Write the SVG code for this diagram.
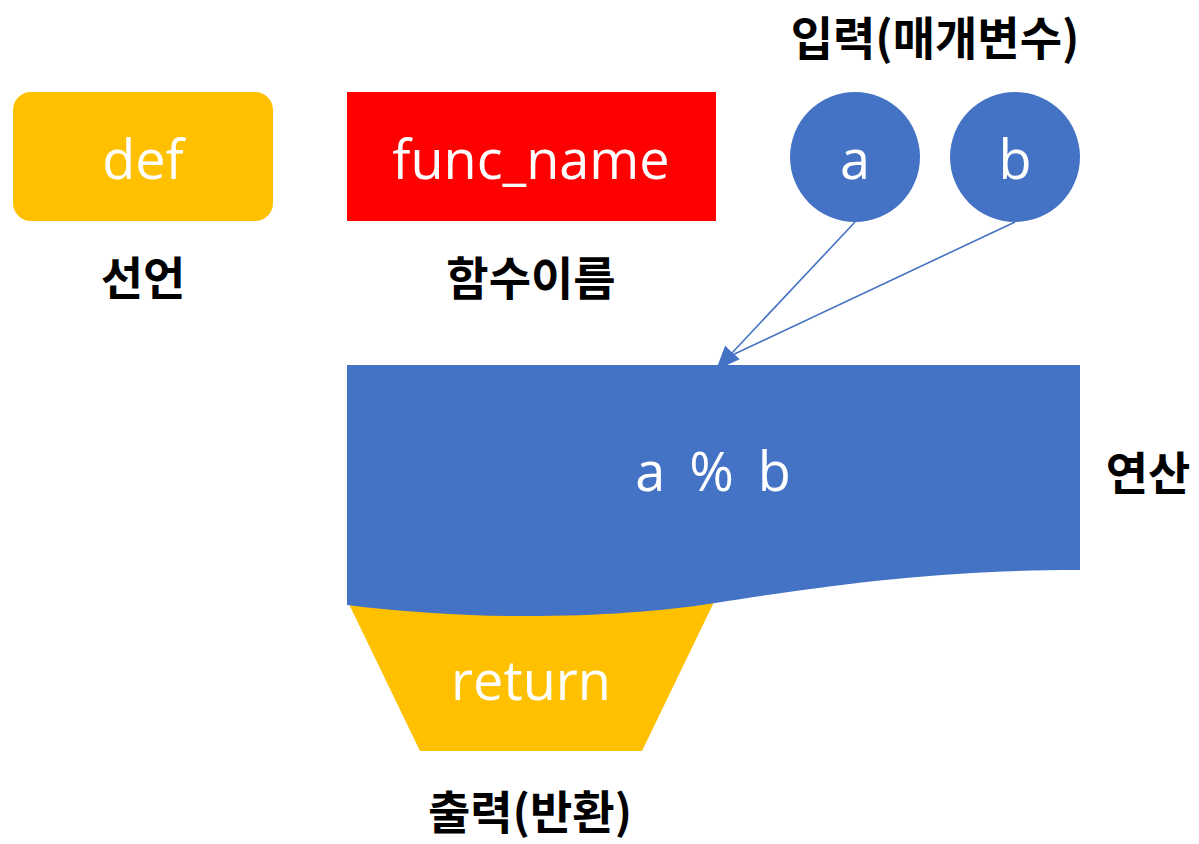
<svg xmlns="http://www.w3.org/2000/svg" width="1199" height="844" viewBox="0 0 1199 844">
<style>
.w{font-family:"Open Sans","Noto Sans",sans-serif;fill:#fff;font-size:54px;text-anchor:middle}
.k{font-family:"Noto Sans CJK KR",sans-serif;font-weight:bold;fill:#000;font-size:46px;text-anchor:middle}
.blue{fill:#4472C4}
.yel{fill:#FFC000}
.conn{stroke:#4472C4;stroke-width:1.6;fill:none}
</style>
<defs>
<marker id="ah" viewBox="0 0 10 10" refX="10" refY="5" markerWidth="24" markerHeight="20" markerUnits="userSpaceOnUse" orient="auto" preserveAspectRatio="none">
<path d="M0,0 L10,5 L0,10 Z" fill="#4472C4"/>
</marker>
</defs>
<rect width="1199" height="844" fill="#fff"/>
<g id="output">
<path class="yel" d="M347,600 L715,600 L642,751 L420,751 Z"/>
<text class="w" x="531" y="700">return</text>
</g>
<g id="connectors">
<line class="conn" x1="855" y1="222" x2="716" y2="370" marker-end="url(#ah)"/>
<line class="conn" x1="1015" y1="222" x2="726" y2="358"/>
</g>
<g id="def">
<rect class="yel" x="13" y="92" width="260" height="129" rx="18"/>
<text class="w" x="143" y="179">def</text>
</g>
<g id="func_name">
<rect x="347" y="92" width="369" height="129" fill="#FF0000"/>
<text class="w" x="531" y="179">func_name</text>
</g>
<g id="param_a">
<circle class="blue" cx="855" cy="157" r="65"/>
<text class="w" x="855" y="179">a</text>
</g>
<g id="param_b">
<circle class="blue" cx="1015" cy="157" r="65"/>
<text class="w" x="1015" y="179">b</text>
</g>
<g id="operation">
<path class="blue" d="M347,365 H1080 V570 C960,570 860,580 715,603 C620,618 480,622 347,605 Z"/>
<text class="w" x="713" y="491" word-spacing="10">a % b</text>
</g>
<g id="labels">
<text class="k" x="935" y="55">입력(매개변수)</text>
<text class="k" x="143" y="295">선언</text>
<text class="k" x="531" y="295">함수이름</text>
<text class="k" x="1148" y="490">연산</text>
<text class="k" x="530" y="829">출력(반환)</text>
</g>
</svg>
